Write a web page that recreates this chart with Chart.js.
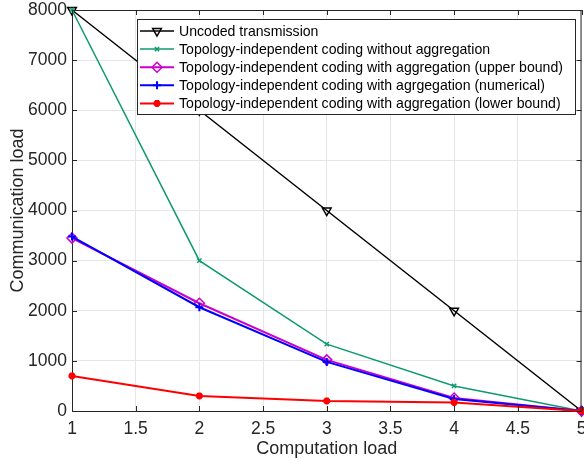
<!DOCTYPE html>
<html>
<head>
<meta charset="utf-8">
<script src="https://cdn.jsdelivr.net/npm/chart.js@4.4.1/dist/chart.umd.min.js"></script>
<style>
  html, body { margin: 0; padding: 0; background: #fff; width: 584px; height: 460px; overflow: hidden; }
  #wrap { width: 588px; height: 460px; position: relative; }
</style>
</head>
<body>
<div id="wrap"><canvas id="chart"></canvas></div>
<script>
(function () {
    'use strict';

    var computationLoad = [1, 2, 3, 4, 5];
    var uncoded = [8000, 6000, 4000, 2000, 0];
    var noAggregation = [8000, 3000, 1333, 500, 0];
    var aggUpper = [3450, 2150, 1020, 260, 0];
    var aggNumerical = [3480, 2070, 980, 240, 0];
    var aggLower = [700, 300, 200, 170, 0];
    var xTickLabels = [1, 1.5, 2, 2.5, 3, 3.5, 4, 4.5, 5];
    var yTickLabels = [0, 1000, 2000, 3000, 4000, 5000, 6000, 7000, 8000];

    var seriesNames = [
        'Uncoded transmission',
        'Topology-independent coding without aggregation',
        'Topology-independent coding with aggregation (upper bound)',
        'Topology-independent coding with agrgegation (numerical)',
        'Topology-independent coding with aggregation (lower bound)'
    ];

    var axisColor = '#262626';
    var fontFamily = '"Liberation Sans", Arial, Helvetica, sans-serif';

    function toPoints(values) {
        return values.map(function (v, i) {
            return { x: computationLoad[i], y: v };
        });
    }

    var styles = [
        { color: '#000000', width: 1.5, point: 'triangle', rotation: 180, radius: 5, fill: false, pw: 1.5 },
        { color: '#0e9a70', width: 1.5, point: 'crossRot', rotation: 0, radius: 3, fill: false, pw: 1.5 },
        { color: '#cc00cc', width: 2, point: 'rectRot', rotation: 0, radius: 5, fill: false, pw: 1.5 },
        { color: '#0000ff', width: 2, point: 'cross', rotation: 0, radius: 4, fill: false, pw: 2 },
        { color: '#ff0000', width: 2, point: 'star', rotation: 0, radius: 3.5, fill: true, pw: 2.5 }
    ];
    var seriesValues = [uncoded, noAggregation, aggUpper, aggNumerical, aggLower];

    var datasets = seriesValues.map(function (values, i) {
        var s = styles[i];
        return {
            label: seriesNames[i],
            data: toPoints(values),
            borderColor: s.color,
            backgroundColor: s.fill ? s.color : 'rgba(0,0,0,0)',
            borderWidth: s.width,
            pointStyle: s.point,
            pointRotation: s.rotation,
            pointRadius: s.radius,
            pointBorderWidth: s.pw,
            pointBorderColor: s.color,
            pointBackgroundColor: s.fill ? s.color : 'rgba(0,0,0,0)',
            tension: 0,
            clip: 8,
            order: 4 - i
        };
    });

    // box around the plot, inner tick marks and the legend inside the axes
    var boxLegend = {
        id: 'boxLegend',
        afterDraw: function (chart) {
            var ctx = chart.ctx;
            var a = chart.chartArea;
            var xs = chart.scales.x;
            var ys = chart.scales.y;
            ctx.save();
            ctx.strokeStyle = axisColor;
            ctx.lineWidth = 1;
            ctx.beginPath();
            ctx.moveTo(a.left, a.top + 0.5);
            ctx.lineTo(a.right, a.top + 0.5);
            ctx.moveTo(a.right - 0.5, a.top);
            ctx.lineTo(a.right - 0.5, a.bottom);
            xTickLabels.forEach(function (t) {
                var px = Math.round(xs.getPixelForValue(t)) + 0.5;
                ctx.moveTo(px, a.bottom);
                ctx.lineTo(px, a.bottom - 5);
                ctx.moveTo(px, a.top);
                ctx.lineTo(px, a.top + 5);
            });
            yTickLabels.forEach(function (t) {
                var py = Math.round(ys.getPixelForValue(t)) + 0.5;
                ctx.moveTo(a.left, py);
                ctx.lineTo(a.left + 5, py);
                ctx.moveTo(a.right, py);
                ctx.lineTo(a.right - 5, py);
            });
            ctx.stroke();

            var bx = 137, by = 19, bw = 438, bh = 95;
            ctx.fillStyle = '#ffffff';
            ctx.fillRect(bx, by, bw, bh);
            ctx.strokeStyle = axisColor;
            ctx.strokeRect(bx + 0.5, by + 0.5, bw, bh);

            ctx.font = '14.1px ' + fontFamily;
            ctx.textBaseline = 'middle';
            seriesNames.forEach(function (name, i) {
                var s = styles[i];
                var y = by + 12 + i * 18.1;
                ctx.strokeStyle = s.color;
                ctx.lineWidth = s.width;
                ctx.beginPath();
                ctx.moveTo(140, y);
                ctx.lineTo(174, y);
                ctx.stroke();
                ctx.fillStyle = s.fill ? s.color : 'rgba(0,0,0,0)';
                ctx.lineWidth = s.pw;
                Chart.helpers.drawPoint(ctx, {
                    pointStyle: s.point,
                    rotation: s.rotation,
                    radius: s.radius,
                    borderWidth: s.pw
                }, 157, y);
                ctx.fillStyle = '#000000';
                ctx.fillText(name, 179, y + 1);
            });
            ctx.restore();
        }
    };

    new Chart(document.getElementById('chart'), {
        type: 'line',
        data: { datasets: datasets },
        plugins: [boxLegend],
        options: {
            responsive: true,
            maintainAspectRatio: false,
            animation: false,
            devicePixelRatio: 1,
            layout: { padding: { top: 10, right: 0, left: 0, bottom: 0 } },
            plugins: {
                legend: { display: false },
                tooltip: { enabled: false }
            },
            scales: {
                x: {
                    type: 'linear',
                    min: 1,
                    max: 5,
                    afterBuildTicks: function (scale) {
                        scale.ticks = xTickLabels.map(function (v) { return { value: v }; });
                    },
                    afterFit: function (scale) {
                        scale.height = 49;
                        scale.paddingLeft = 0;
                        scale.paddingRight = 0;
                    },
                    ticks: {
                        color: axisColor,
                        font: { family: fontFamily, size: 17.5 },
                        padding: 8,
                        maxRotation: 0,
                        callback: function (v) { return String(v); }
                    },
                    grid: { color: '#e6e6e6', drawTicks: false, lineWidth: 1 },
                    border: { color: axisColor, width: 1 },
                    title: {
                        display: true,
                        text: 'Computation load',
                        color: axisColor,
                        font: { family: fontFamily, size: 18 },
                        padding: { top: 0, bottom: 0 }
                    }
                },
                y: {
                    min: 0,
                    max: 8000,
                    afterBuildTicks: function (scale) {
                        scale.ticks = yTickLabels.map(function (v) { return { value: v }; });
                    },
                    afterFit: function (scale) {
                        scale.width = 72;
                        scale.paddingTop = 0;
                        scale.paddingBottom = 0;
                    },
                    ticks: {
                        color: axisColor,
                        font: { family: fontFamily, size: 17.5 },
                        padding: 5,
                        callback: function (v) { return String(v); }
                    },
                    grid: { color: '#e6e6e6', drawTicks: false, lineWidth: 1 },
                    border: { color: axisColor, width: 1 },
                    title: {
                        display: true,
                        text: 'Communication load',
                        color: axisColor,
                        font: { family: fontFamily, size: 18 },
                        padding: { top: 7, bottom: 0 }
                    }
                }
            }
        }
    });
})();
</script>
</body>
</html>
